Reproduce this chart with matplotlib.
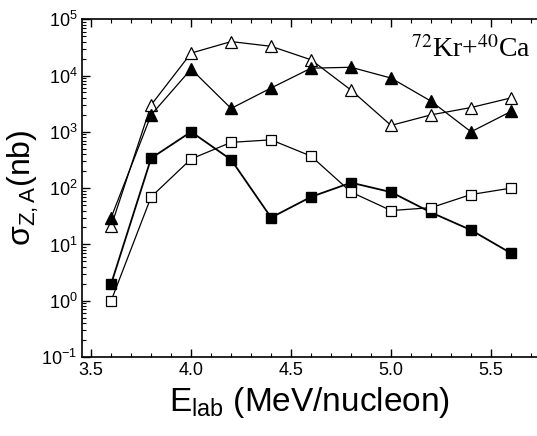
import numpy as np
import matplotlib
matplotlib.use("Agg")
import matplotlib.pyplot as plt
from matplotlib.ticker import LogLocator, MultipleLocator, NullFormatter

plt.rcParams['font.family'] = ['Liberation Sans', 'DejaVu Sans']
plt.rcParams['mathtext.fontset'] = 'custom'
plt.rcParams['mathtext.rm'] = 'Liberation Sans'
plt.rcParams['mathtext.it'] = 'Liberation Sans:italic'
plt.rcParams['mathtext.bf'] = 'Liberation Sans:bold'

# energies (MeV/nucleon)
energy = [3.6, 3.8, 4.0, 4.2, 4.4, 4.6, 4.8, 5.0, 5.2, 5.4, 5.6]

# cross sections (nb)
open_tri = [21, 3000, 25000, 40000, 33000, 19000, 5500, 1300, 2000, 2700, 4000]
full_tri = [30, 2000, 13000, 2600, 6000, 13500, 14000, 9000, 3500, 1000, 2300]
full_sq = [2, 340, 1000, 320, 30, 70, 125, 85, 37, 18, 7]
open_sq = [1, 70, 330, 650, 720, 370, 85, 40, 45, 77, 100]

fig = plt.figure(figsize=(5.37, 4.36), dpi=100)
ax = fig.add_axes([0.153, 0.181, 0.847, 0.775])

ax.plot(energy, open_tri, '-', color='black', lw=0.9, marker='^', ms=9,
        mfc='white', mec='black', mew=0.9)
ax.plot(energy, full_tri, '-', color='black', lw=0.9, marker='^', ms=9,
        mfc='black', mec='black')
ax.plot(energy, full_sq, '-', color='black', lw=1.3, marker='s', ms=7.5,
        mfc='black', mec='black')
ax.plot(energy, open_sq, '-', color='black', lw=0.9, marker='s', ms=7.5,
        mfc='white', mec='black', mew=0.9)

ax.set_yscale('log')
ax.set_ylim(0.1, 1e5)
ax.set_xlim(3.455, 5.73)

ax.xaxis.set_major_locator(MultipleLocator(0.5))
ax.xaxis.set_minor_locator(MultipleLocator(0.1))
ax.yaxis.set_major_locator(LogLocator(base=10, numticks=10))
ax.yaxis.set_minor_locator(LogLocator(base=10, subs=np.arange(2, 10), numticks=20))
ax.yaxis.set_minor_formatter(NullFormatter())

ax.tick_params(which='both', direction='in', top=True, right=False, labelsize=13)
ax.tick_params(which='major', length=6, width=1)
ax.tick_params(which='minor', length=3, width=0.8)
ax.xaxis.set_major_formatter(matplotlib.ticker.FormatStrFormatter('%.1f'))

for s in ['left', 'bottom', 'top']:
    ax.spines[s].set_linewidth(1.2)
ax.spines['right'].set_visible(False)

ax.set_xlabel(r'$\mathregular{E_{lab}}$ (MeV/nucleon)', fontsize=24, labelpad=4)
ax.set_ylabel(r'$\mathregular{\sigma_{Z,A}}$(nb)', fontsize=23, labelpad=0)

ax.text(0.985, 0.95, r'$^{72}$Kr+$^{40}$Ca', transform=ax.transAxes,
        ha='right', va='top', fontsize=20, family=['Liberation Serif', 'DejaVu Serif'],
        math_fontfamily='stix')

fig.savefig('out.png', dpi=100)
